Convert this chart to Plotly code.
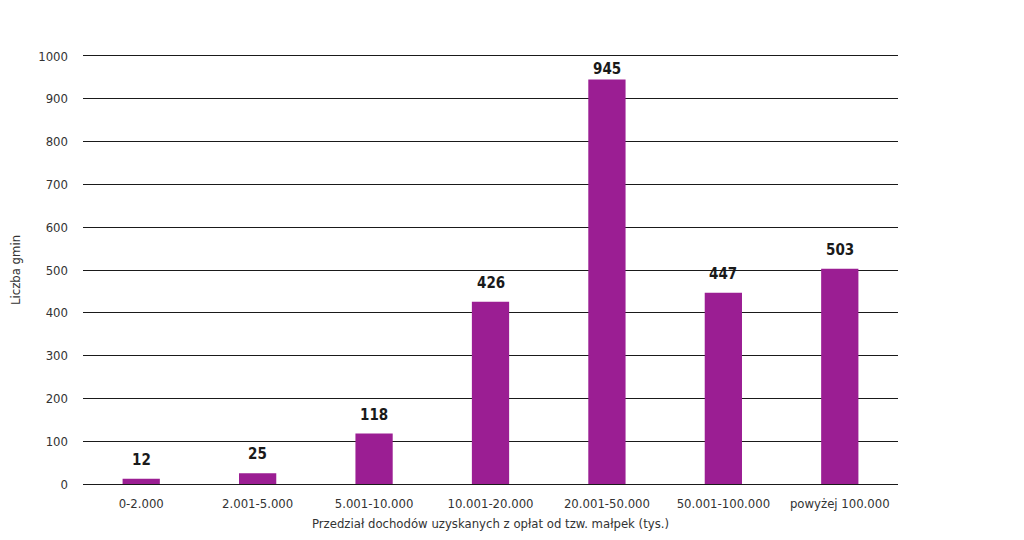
import plotly.graph_objects as go

# Dane
przedzialy = ["0-2.000", "2.001-5.000", "5.001-10.000", "10.001-20.000",
              "20.001-50.000", "50.001-100.000", "powyżej 100.000"]
liczba_gmin = [12, 25, 118, 426, 945, 447, 503]

font_family = "DejaVu Sans Condensed, Liberation Sans Narrow, Roboto, sans-serif"

fig = go.Figure(go.Bar(
    x=przedzialy,
    y=liczba_gmin,
    marker_color="#9b1e93",
    marker_line_width=0,
    hoverinfo="x+y",
))

# etykiety nad słupkami (przy najwyższym słupku bliżej, bo brak miejsca)
for kat, val in zip(przedzialy, liczba_gmin):
    fig.add_annotation(
        x=kat, y=val,
        text=f"<b>{val}</b>",
        showarrow=False,
        yanchor="bottom",
        yshift=0 if val > 900 else 8,
        font=dict(family=font_family, size=15, color="#1a1a1a"),
    )

# strona ma 8px marginesu body, stąd przesunięcie
fig.update_layout(
    width=1024, height=540,
    margin=dict(l=75, r=134, t=48, b=64, autoexpand=False),
    plot_bgcolor="white",
    paper_bgcolor="white",
    bargap=0.68,
    showlegend=False,
    font=dict(family=font_family, size=13, color="#333333"),
)

fig.update_yaxes(
    range=[0, 1000],
    dtick=100,
    showgrid=True,
    gridcolor="#1a1a1a",
    gridwidth=1.2,
    zeroline=False,
    ticks="",
    ticklabelstandoff=14,
    automargin=False,
    title=dict(text="Liczba gmin", font=dict(size=13), standoff=19),
)
fig.update_xaxes(
    showgrid=False,
    showline=True,
    mirror=True,
    linecolor="#1a1a1a",
    linewidth=1.2,
    ticks="",
    automargin=False,
    ticklabelstandoff=7,
    title=dict(text="Przedział dochodów uzyskanych z opłat od tzw. małpek (tys.)",
               font=dict(size=13), standoff=9),
)

fig.write_html("out.html")
